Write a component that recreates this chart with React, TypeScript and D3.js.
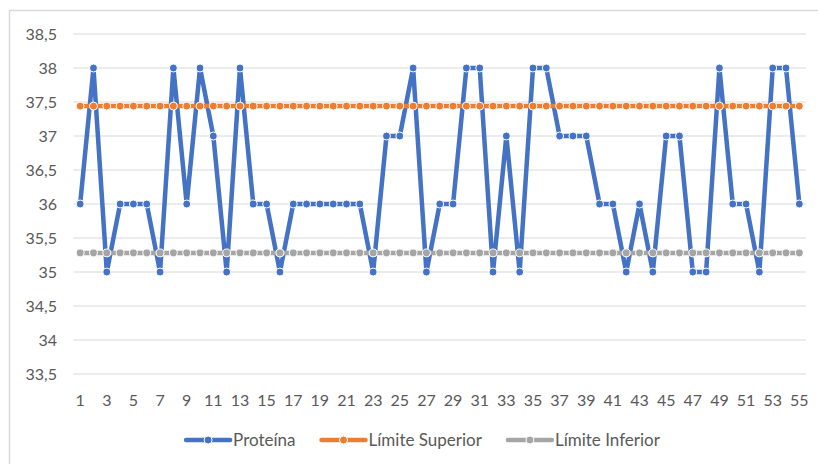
import React, { useEffect, useRef } from 'react';
import * as d3 from 'd3';

const categories = d3.range(1, 56).map(String);

const proteina = [
  36, 38, 35, 36, 36, 36, 35, 38, 36, 38,
  37, 35, 38, 36, 36, 35, 36, 36, 36, 36,
  36, 36, 35, 37, 37, 38, 35, 36, 36, 38,
  38, 35, 37, 35, 38, 38, 37, 37, 37, 36,
  36, 35, 36, 35, 37, 37, 35, 35, 38, 36,
  36, 35, 38, 38, 36,
];
const limiteSuperior = categories.map(() => 37.44);
const limiteInferior = categories.map(() => 35.28);

const yTicks = [33.5, 34, 34.5, 35, 35.5, 36, 36.5, 37, 37.5, 38, 38.5];

const series = [
  { name: 'Proteína', color: '#4472C4', values: proteina },
  { name: 'Límite Superior', color: '#ED7D31', values: limiteSuperior },
  { name: 'Límite Inferior', color: '#A5A5A5', values: limiteInferior },
];

const W = 818;
const H = 464;
const FONT = 'Lato, "Open Sans", sans-serif';

const App: React.FC = () => {
  const svgRef = useRef<SVGSVGElement>(null);

  useEffect(() => {
    if (!svgRef.current) return;
    const svg = d3.select(svgRef.current);
    svg.selectAll('*').remove();

    const plot = { left: 73.5, right: 806, top: 34, bottom: 374 };

    // chart frame
    svg.append('rect')
      .attr('x', 9.5).attr('y', 10.5)
      .attr('width', W + 20).attr('height', H + 20)
      .attr('fill', '#fff')
      .attr('stroke', '#D9D9D9')
      .attr('stroke-width', 1.5);

    const x = d3.scaleBand<string>()
      .domain(categories)
      .range([plot.left, plot.right]);
    const y = d3.scaleLinear()
      .domain([33.5, 38.5])
      .range([plot.bottom, plot.top]);
    const cx = (i: number) => (x(categories[i]) ?? 0) + x.bandwidth() / 2;

    const fmt = (v: number) => String(v).replace('.', ',');

    // gridlines
    svg.append('g')
      .selectAll('line')
      .data(yTicks)
      .enter().append('line')
      .attr('x1', plot.left).attr('x2', plot.right)
      .attr('y1', d => y(d)).attr('y2', d => y(d))
      .attr('stroke', '#D9D9D9')
      .attr('stroke-width', 1);

    // y labels
    svg.append('g')
      .selectAll('text')
      .data(yTicks)
      .enter().append('text')
      .attr('x', 57)
      .attr('y', d => y(d))
      .attr('dy', '0.35em')
      .attr('text-anchor', 'end')
      .attr('fill', '#595959')
      .style('font-family', FONT)
      .style('font-size', '16px')
      .text(d => fmt(d));

    // x labels (every other category)
    svg.append('g')
      .selectAll('text')
      .data(categories.filter((_, i) => i % 2 === 0))
      .enter().append('text')
      .attr('x', d => (x(d) ?? 0) + x.bandwidth() / 2)
      .attr('y', 400)
      .attr('dy', '0.35em')
      .attr('text-anchor', 'middle')
      .attr('fill', '#595959')
      .style('font-family', FONT)
      .style('font-size', '16px')
      .text(d => d);

    const line = d3.line<number>()
      .x((_, i) => cx(i))
      .y(d => y(d));

    series.forEach(s => {
      const g = svg.append('g');
      g.append('path')
        .datum(s.values)
        .attr('d', line)
        .attr('fill', 'none')
        .attr('stroke', s.color)
        .attr('stroke-width', 4.5)
        .attr('stroke-linejoin', 'round');
      g.selectAll('circle')
        .data(s.values)
        .enter().append('circle')
        .attr('cx', (_, i) => cx(i))
        .attr('cy', d => y(d))
        .attr('r', 4)
        .attr('fill', s.color)
        .attr('stroke', '#fff')
        .attr('stroke-width', 1);
    });

    // legend
    const legend = svg.append('g');
    const sample = 44;
    let pos = 0;
    const items = series.map(s => {
      const item = legend.append('g');
      item.append('line')
        .attr('x1', 0).attr('x2', sample)
        .attr('y1', 0).attr('y2', 0)
        .attr('stroke', s.color)
        .attr('stroke-width', 4.5)
        .attr('stroke-linecap', 'round');
      item.append('circle')
        .attr('cx', sample / 2).attr('cy', 0)
        .attr('r', 4)
        .attr('fill', s.color)
        .attr('stroke', '#fff')
        .attr('stroke-width', 1);
      const t = item.append('text')
        .attr('x', sample + 3)
        .attr('dy', '0.35em')
        .attr('fill', '#595959')
        .style('font-family', FONT)
        .style('font-size', '17px')
        .text(s.name);
      const w = sample + 3 + (t.node() as SVGTextElement).getComputedTextLength();
      return { item, w };
    });
    const gap = 26;
    const total = d3.sum(items, d => d.w) + gap * (items.length - 1);
    pos = 423 - total / 2;
    items.forEach(d => {
      d.item.attr('transform', `translate(${pos},440)`);
      pos += d.w + gap;
    });
  }, []);

  return (
    <div style={{ position: 'absolute', left: 0, top: 0, width: W, height: H, overflow: 'hidden', background: '#fff' }}>
      <svg ref={svgRef} width={W} height={H} style={{ display: 'block' }}></svg>
    </div>
  );
};

export default App;
